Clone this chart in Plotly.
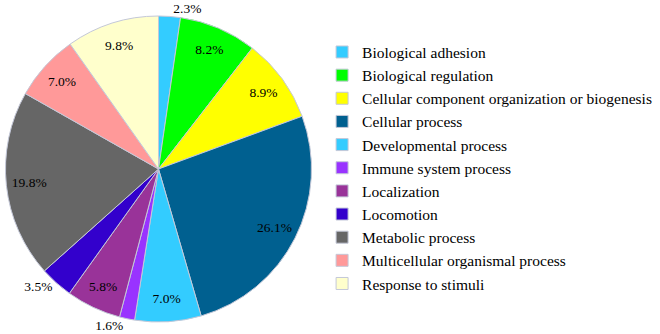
import plotly.graph_objects as go

categories = ["Biological adhesion", "Biological regulation",
              "Cellular component organization or biogenesis", "Cellular process",
              "Developmental process", "Immune system process", "Localization",
              "Locomotion", "Metabolic process", "Multicellular organismal process",
              "Response to stimuli"]
values = [2.3, 8.2, 8.9, 26.1, 7.0, 1.6, 5.8, 3.5, 19.8, 7.0, 9.8]
colors = ["#33CCFF", "#00FF00", "#FFFF00", "#006090", "#33CCFF", "#9933FF",
          "#993399", "#3300CC", "#666666", "#FF9999", "#FFFFCC"]
text_positions = ["outside", "inside", "inside", "inside", "inside", "outside",
                  "inside", "outside", "inside", "inside", "inside"]

FONT = "Liberation Serif"
domain = dict(x=[5/660, 312/660], y=[12/334, 318/334])

# coloured pie (no text)
base = go.Pie(
    labels=categories, values=values,
    marker=dict(colors=colors, line=dict(color="#c4c8d8", width=1)),
    sort=False, direction="clockwise", rotation=0,
    textinfo="none", domain=domain, hoverinfo="label+value",
)

# transparent ring on top that carries the percentage labels
labels_layer = go.Pie(
    labels=categories, values=values,
    marker=dict(colors=["rgba(0,0,0,0)"] * len(values), line=dict(width=0)),
    sort=False, direction="clockwise", rotation=0, hole=0.7,
    texttemplate="%{value:.1f}%", textposition=text_positions,
    textfont=dict(family=FONT, size=13.5, color="black"),
    insidetextfont=dict(family=FONT, size=13.5, color="black"),
    outsidetextfont=dict(family=FONT, size=13.5, color="black"),
    insidetextorientation="horizontal",
    domain=domain, showlegend=False, hoverinfo="skip",
)

fig = go.Figure([base, labels_layer])

fig.update_layout(
    width=660, height=334,
    margin=dict(l=0, r=0, t=0, b=0, autoexpand=False),
    paper_bgcolor="white", plot_bgcolor="white",
    showlegend=True,
    legend=dict(x=0.488, y=0.894, xanchor="left", yanchor="top",
                font=dict(family=FONT, size=15.5, color="black"),
                traceorder="normal"),
)

fig.write_html("out.html",
               config={"displayModeBar": False},
               post_script="document.body.style.margin='0';document.body.style.overflow='hidden';")
